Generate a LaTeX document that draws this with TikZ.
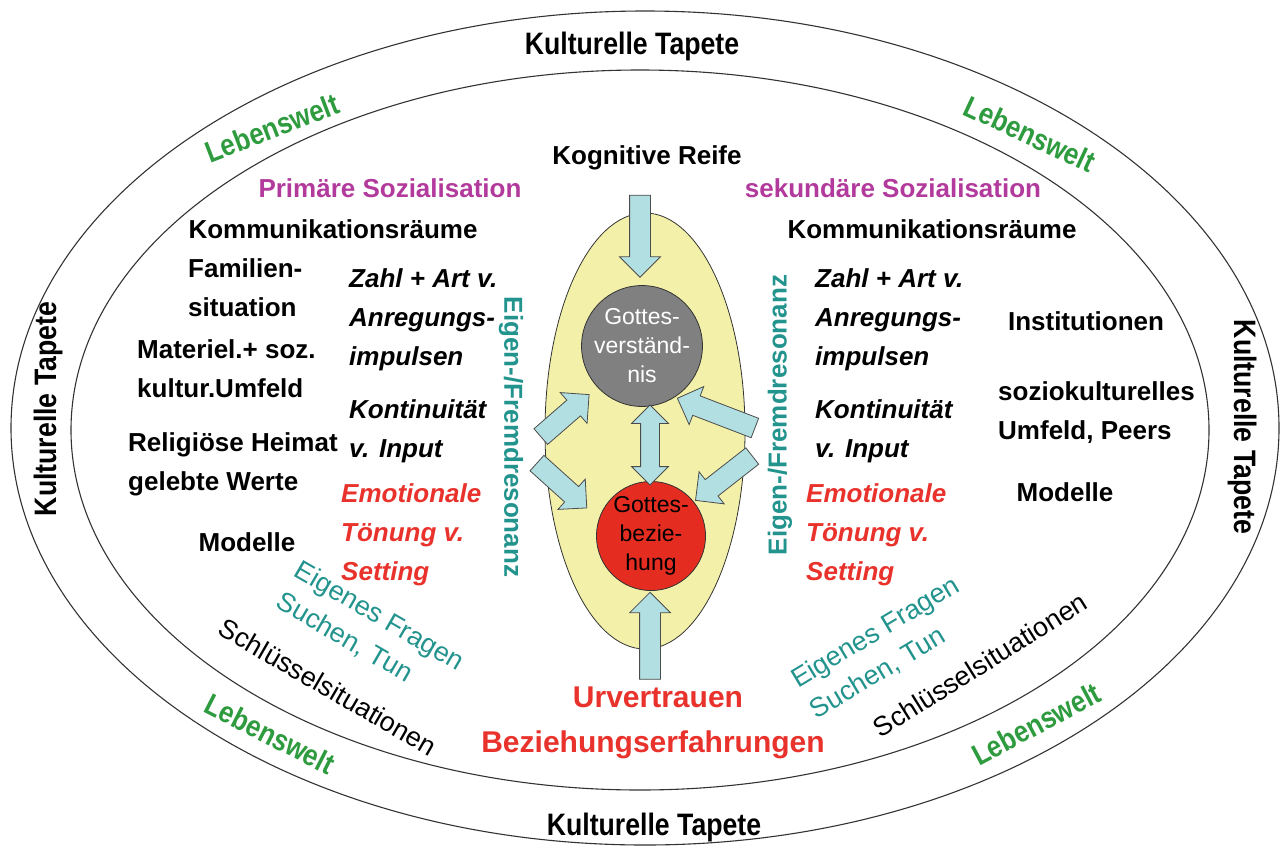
\documentclass[tikz,border=0pt]{standalone}
\usepackage{fontspec}
\setmainfont{Liberation Sans}
\usepackage{graphicx}
\usetikzlibrary{shapes.arrows}

\definecolor{tapred}{HTML}{E8322B}
\definecolor{sozmag}{HTML}{B23A9C}
\definecolor{weltgreen}{HTML}{2E9B3F}
\definecolor{resteal}{HTML}{22938D}
\definecolor{arrowblue}{HTML}{B2DFE2}
\definecolor{kernyellow}{HTML}{F3F1A9}
\definecolor{kerngray}{HTML}{808080}
\definecolor{kernred}{HTML}{E42D20}

\newcommand\schmal[1]{\scalebox{0.86}[1]{#1}}

\tikzset{
  ring/.style={draw=black!80, line width=1.1pt},
  tapete/.style={font=\fontsize{31}{31}\selectfont\bfseries, inner sep=0pt},
  welt/.style={font=\fontsize{30}{30}\selectfont\bfseries, text=weltgreen, inner sep=0pt},
  txt/.style={font=\fontsize{26}{39}\selectfont\bfseries, inner sep=0pt, align=left},
  kursiv/.style={font=\fontsize{26}{39}\selectfont\bfseries\itshape, inner sep=0pt, align=left},
  dreh/.style={font=\fontsize{27}{36}\selectfont, inner sep=0pt, align=left},
  kern/.style={circle, draw=black!80, line width=0.8pt, inner sep=0pt, align=center,
    font=\fontsize{23}{29}\selectfont},
  pfeil/.style={single arrow, draw=black!70, fill=arrowblue, line width=0.8pt,
    inner xsep=0pt, inner ysep=10pt, single arrow head extend=10pt},
  doppelpfeil/.style={double arrow, draw=black!70, fill=arrowblue, line width=0.8pt,
    inner xsep=0pt, inner ysep=9pt, double arrow head extend=9pt}
}

\begin{document}
\begin{tikzpicture}[x=1pt,y=-1pt]
  \useasboundingbox (0,0) rectangle (1284,846);

  %===== Ringe =====%
  \draw[ring] (645,428) ellipse [x radius=634, y radius=417];
  \draw[ring] (640,430) ellipse [x radius=569, y radius=360];

  % Kulturelle Tapete
  \node[tapete] (tapN) at (632,46) {\schmal{Kulturelle Tapete}};
  \node[tapete] (tapS) at (654,827) {\schmal{Kulturelle Tapete}};
  \node[tapete, rotate=90] (tapW) at (48,409) {\schmal{Kulturelle Tapete}};
  \node[tapete, rotate=-90] (tapO) at (1242,427) {\schmal{Kulturelle Tapete}};

  % Lebenswelt
  \node[welt, rotate=21] (weltNW) at (272,128) {\schmal{Lebenswelt}};
  \node[welt, rotate=-25] (weltNO) at (1030,134) {\schmal{Lebenswelt}};
  \node[welt, rotate=-27] (weltSW) at (270,734) {\schmal{Lebenswelt}};
  \node[welt, rotate=28] (weltSO) at (1036,724) {\schmal{Lebenswelt}};

  %===== Kern =====%
  \filldraw[fill=kernyellow, draw=black!80, line width=0.8pt]
    (645,431) ellipse [x radius=100, y radius=218];
  \node[kern, fill=kerngray, text=white, minimum size=98pt] (verst) at (642,346)
    {Gottes-\\verständ-\\nis};
  \node[kern, fill=kernred, minimum size=102pt] (bez) at (651,536)
    {Gottes-\\bezie-\\hung};

  % Pfeile
  \node[pfeil, minimum height=82pt, rotate=-90] (pfReife) at (640,231) {};
  \node[pfeil, minimum height=87pt, rotate=90] (pfUr) at (650,641) {};
  \node[doppelpfeil, minimum height=80pt, rotate=90] (pfKern) at (650,445) {};
  \node[pfeil, minimum height=64pt, rotate=41] (pfLo) at (561,419) {};
  \node[pfeil, minimum height=67pt, rotate=-42] (pfLu) at (558,482) {};
  \node[pfeil, minimum height=83pt, rotate=159] (pfRo) at (721,415) {};
  \node[pfeil, minimum height=72pt, rotate=218] (pfRu) at (728,475) {};

  %===== Mitte oben / unten =====%
  \node[txt] (reife) at (647,158) {Kognitive Reife};
  \node[txt, font=\fontsize{30}{30}\selectfont\bfseries, text=tapred] (urv) at (658,697) {Urvertrauen};
  \node[txt, font=\fontsize{30}{30}\selectfont\bfseries, text=tapred] (bezerf) at (653,745) {Beziehungserfahrungen};

  %===== links: primaere Sozialisation =====%
  \node[txt, text=sozmag] (prim) at (390,188) {Primäre Sozialisation};
  \node[txt] (kommL) at (333,229) {Kommunikationsräume};
  \node[txt, anchor=base west] (famil) at (188,316) {Familien-\\situation};
  \node[txt, anchor=base west] (mater) at (137,397) {Materiel.+ soz.\\kultur.Umfeld};
  \node[txt, anchor=base west] (relig) at (128,490) {Religiöse Heimat\\gelebte Werte};
  \node[txt] (modL) at (247,542) {Modelle};
  \node[kursiv, anchor=base west] (zahlL) at (349,365) {Zahl + Art v.\\Anregungs-\\impulsen};
  \node[kursiv, anchor=base west] (kontL) at (349,457) {Kontinuität\\v. Input};
  \node[kursiv, anchor=base west, text=tapred] (emoL) at (341,580) {Emotionale\\Tönung v.\\Setting};
  \node[txt, text=resteal, rotate=-90] (resL) at (511,437) {Eigen-/Fremdresonanz};
  \node[dreh, text=resteal, rotate=-30] (frageL) at (370,632) {Eigenes Fragen\\Suchen, Tun};
  \node[dreh, rotate=-30] (schlL) at (328,687) {Schlüsselsituationen};

  %===== rechts: sekundaere Sozialisation =====%
  \node[txt, text=sozmag] (sek) at (893,188) {sekundäre Sozialisation};
  \node[txt] (kommR) at (932,229) {Kommunikationsräume};
  \node[kursiv, anchor=base west] (zahlR) at (815,365) {Zahl + Art v.\\Anregungs-\\impulsen};
  \node[kursiv, anchor=base west] (kontR) at (815,457) {Kontinuität\\v. Input};
  \node[kursiv, anchor=base west, text=tapred] (emoR) at (806,580) {Emotionale\\Tönung v.\\Setting};
  \node[txt] (inst) at (1086,321) {Institutionen};
  \node[txt, anchor=base west] (sozio) at (998,439) {soziokulturelles\\Umfeld, Peers};
  \node[txt] (modR) at (1065,492) {Modelle};
  \node[txt, text=resteal, rotate=90] (resR) at (780,415) {Eigen-/Fremdresonanz};
  \node[dreh, text=resteal, rotate=31] (frageR) at (885,648) {Eigenes Fragen\\Suchen, Tun};
  \node[dreh, rotate=32] (schlR) at (980,665) {Schlüsselsituationen};
\end{tikzpicture}
\end{document}
